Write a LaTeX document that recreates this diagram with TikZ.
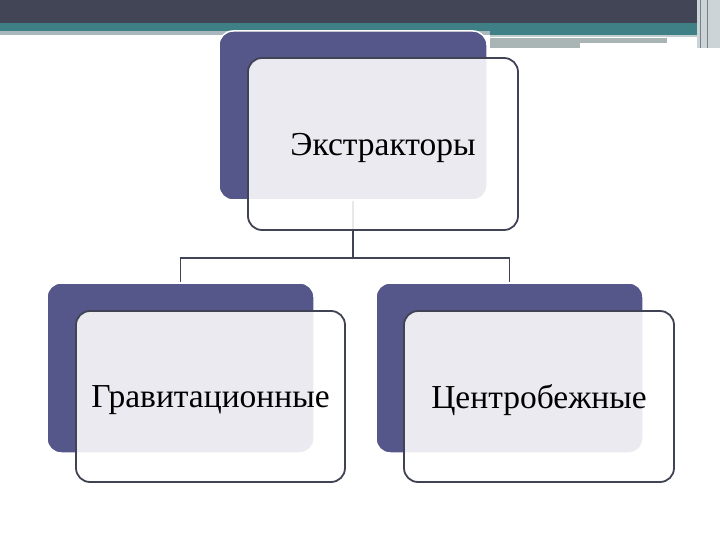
\documentclass[tikz,border=0pt]{standalone}
\usepackage{fontspec}
\setmainfont{Liberation Serif}
\definecolor{barDark}{HTML}{424555}
\definecolor{barTeal}{HTML}{3F7F86}
\definecolor{barLine}{HTML}{A8B8BC}
\definecolor{barGray}{HTML}{A9B5B5}
\definecolor{backBlue}{HTML}{55568A}
\definecolor{edgeDark}{HTML}{404354}
\tikzset{
  backbox/.style={rectangle, rounded corners=14pt, fill=backBlue, draw=white,
    line width=1.5pt, minimum width=267pt, minimum height=170pt, inner sep=0pt},
  frontbox/.style={rectangle, rounded corners=14pt, fill=white, fill opacity=0.88,
    text opacity=1, draw=edgeDark, line width=1.8pt, minimum width=270pt,
    minimum height=171pt, inner sep=0pt, text depth=0pt,
    font=\fontsize{33.5}{38}\selectfont},
  link/.style={draw=edgeDark, line width=1.8pt}
}
\begin{document}
\begin{tikzpicture}[x=1pt, y=-1pt]
  \useasboundingbox (0,0) rectangle (720,540);
  % title bar
  \fill[barDark] (0,0) rectangle (720,23);
  \fill[barTeal] (0,23) rectangle (720,31);
  \fill[barTeal] (490,31) rectangle (697,35);
  \fill[barLine] (0,31) rectangle (490,35);
  \fill[barLine!70] (490,35) rectangle (697,37);
  \fill[barGray] (490,38) rectangle (667,43);
  \fill[barGray] (490,43) rectangle (580,48);
  \fill[barLine!60] (697,0) rectangle (720,48);
  \draw[barDark!70, line width=1pt] (700,0) -- (700,48) (707,0) -- (707,48);
  % back boxes
  \node[backbox, minimum width=268pt, minimum height=169pt] (exb) at (353,115.5) {};
  \node[backbox] (grb) at (180.5,368) {};
  \node[backbox] (ceb) at (509.5,368) {};
  % links
  \draw[link] (exb.south) -- ++(0,57) -| (grb.north);
  \draw[link] (exb.south) -- ++(0,57) -| (ceb.north);
  % front boxes
  \node[frontbox, minimum height=172pt] (ex) at (383,144) {Экстракторы};
  \node[frontbox, minimum width=269pt] (gr) at (210.5,396.5) {Гравитационные};
  \node[frontbox] (ce) at (539,396.5) {Центробежные};
\end{tikzpicture}
\end{document}
